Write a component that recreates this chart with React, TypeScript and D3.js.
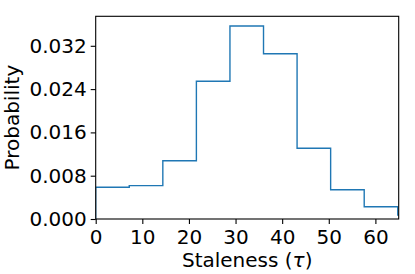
import React, { useEffect, useRef } from 'react'
import * as d3 from 'd3'

// histogram (density) of staleness, bin width 7.2
const binEdges = [0, 7.2, 14.4, 21.6, 28.8, 36, 43.2, 50.4, 57.6, 64.8, 72]
const density = [0.00586, 0.00616, 0.01077, 0.02544, 0.03566, 0.03054, 0.01306, 0.00541, 0.00227, 0.00074]
const xTicks = [0, 10, 20, 30, 40, 50, 60]
const yTicks = [0, 0.008, 0.016, 0.024, 0.032]

const W = 415
const H = 274
const margin = { top: 16.3, right: 16.3, bottom: 55, left: 95.7 }
const font = 'DejaVu Sans, sans-serif'

export default function App() {
  const ref = useRef<SVGSVGElement>(null)

  useEffect(() => {
    const svg = d3.select(ref.current)
    svg.selectAll('*').remove()

    const width = W - margin.left - margin.right
    const height = H - margin.top - margin.bottom

    const x = d3.scaleLinear().domain([0, 65]).range([0, width])
    const y = d3.scaleLinear().domain([0, 0.03745]).range([height, 0])

    const g = svg.append('g')
      .attr('transform', 'translate(' + margin.left + ',' + margin.top + ')')

    g.append('clipPath').attr('id', 'clip')
      .append('rect').attr('width', width).attr('height', height)

    // step outline like histtype='step'
    const pts: [number, number][] = [[binEdges[0], 0]]
    density.forEach((d, i) => {
      pts.push([binEdges[i], d])
      pts.push([binEdges[i + 1], d])
    })
    pts.push([binEdges[binEdges.length - 1], 0])

    const line = d3.line<[number, number]>()
      .x(d => x(d[0]))
      .y(d => y(d[1]))

    g.append('path')
      .attr('clip-path', 'url(#clip)')
      .attr('d', line(pts))
      .attr('fill', 'none')
      .attr('stroke', '#1f77b4')
      .attr('stroke-width', 1.4)
      .attr('stroke-linejoin', 'miter')

    const xAxis = g.append('g')
      .attr('transform', 'translate(0,' + height + ')')
      .call(d3.axisBottom(x).tickValues(xTicks).tickFormat(d3.format('d')).tickSizeInner(5).tickSizeOuter(0).tickPadding(5))
    const yAxis = g.append('g')
      .call(d3.axisLeft(y).tickValues(yTicks).tickFormat(d3.format('.3f')).tickSizeInner(5).tickSizeOuter(0).tickPadding(4))

    for (const ax of [xAxis, yAxis]) {
      ax.select('.domain').remove()
      ax.selectAll('line').attr('stroke', '#000').attr('stroke-width', 1.1)
      ax.selectAll('text').attr('fill', '#000').style('font-family', font).style('font-size', '20px')
    }
    xAxis.selectAll('text').attr('dy', '0.76em')

    // frame
    g.append('rect')
      .attr('width', width).attr('height', height)
      .attr('fill', 'none').attr('stroke', '#000').attr('stroke-width', 1.1)

    const xl = svg.append('text')
      .attr('x', margin.left + width / 2).attr('y', 266.5)
      .attr('text-anchor', 'middle')
      .style('font-family', font).style('font-size', '20px')
    xl.append('tspan').text('Staleness (')
    xl.append('tspan').style('font-style', 'italic').text('τ')
    xl.append('tspan').text(')')

    svg.append('text')
      .attr('transform', 'translate(19,' + (margin.top + height / 2) + ') rotate(-90)')
      .attr('text-anchor', 'middle')
      .style('font-family', font).style('font-size', '20px')
      .text('Probability')
  }, [])

  return (
    <svg ref={ref} width={W} height={H}
      style={{ position: 'absolute', left: 0, top: 0, background: '#fff' }} />
  )
}
